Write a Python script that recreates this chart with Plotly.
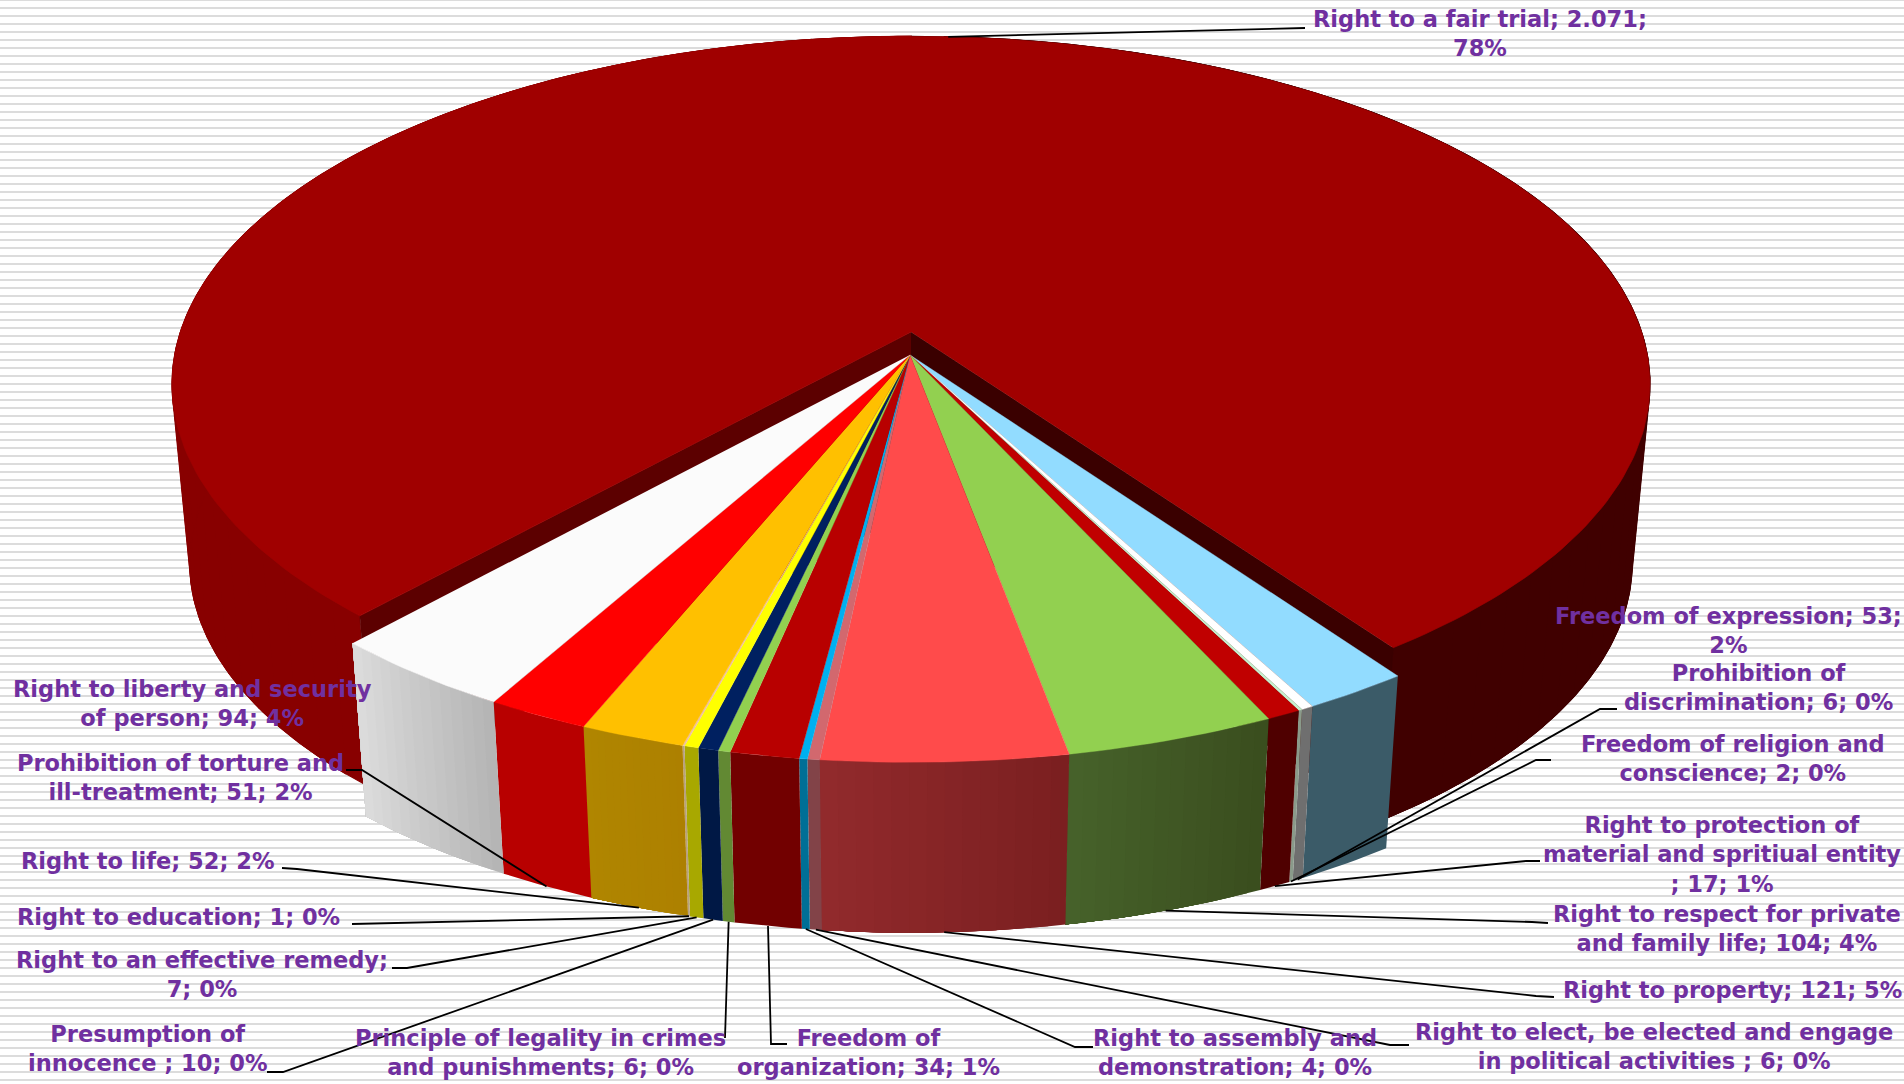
import numpy as np
import plotly.graph_objects as go

# ---------- data (clockwise from the exploded slice) ----------
names = ["Right to a fair trial", "Freedom of expression", "Prohibition of discrimination",
         "Freedom of religion and conscience", "Right to protection of material and spritiual entity ",
         "Right to respect for private and family life", "Right to property",
         "Right to elect, be elected and engage in political activities ",
         "Right to assembly and demonstration", "Freedom of organization",
         "Principle of legality in crimes and punishments", "Presumption of innocence ",
         "Right to an effective remedy", "Right to education", "Right to life",
         "Prohibition of torture and ill-treatment", "Right to liberty and security of person"]
values = [2071, 53, 6, 2, 17, 104, 121, 6, 4, 34, 6, 10, 7, 1, 52, 51, 94]
labels = ["Right to a fair trial; 2.071;<br>78%",
          "Freedom of expression; 53;<br>2%",
          "Prohibition of<br>discrimination; 6; 0%",
          "Freedom of religion and<br>conscience; 2; 0%",
          "Right to protection of<br>material and spritiual entity<br>; 17; 1%",
          "Right to respect for private<br>and family life; 104; 4%",
          "Right to property; 121; 5%",
          "Right to elect, be elected and engage<br>in political activities ; 6; 0%",
          "Right to assembly and<br>demonstration; 4; 0%",
          "Freedom of<br>organization; 34; 1%",
          "Principle of legality in crimes<br>and punishments; 6; 0%",
          "Presumption of<br>innocence ; 10; 0%",
          "Right to an effective remedy;<br>7; 0%",
          "Right to education; 1; 0%",
          "Right to life; 52; 2%",
          "Prohibition of torture and<br>ill-treatment; 51; 2%",
          "Right to liberty and security<br>of person; 94; 4%"]

# ---------- styles ----------
top_colors = ["#a00000", "#92dcff", "#ffffff", "#c6efce", "#c00000", "#92d050", "#ff4b4b", "#d2686e",
              "#00b0f0", "#b80000", "#92d050", "#002060", "#ffff00", "#f0c0a0", "#ffc000", "#ff0000", "#fbfbfb"]
side_left = ["#880000", "#3b5b68", "#6f6f6f", "#8a9a8a", "#4f0000", "#46622a", "#922a2c", "#824348",
             "#006f96", "#720000", "#628933", "#001845", "#a8a800", "#b8a080", "#b08600", "#b80000", "#dcdcdc"]
side_right = ["#400000", "#3b5b68", "#6f6f6f", "#8a9a8a", "#4f0000", "#3a4d1e", "#7a1f20", "#824348",
              "#006f96", "#720000", "#628933", "#001845", "#a8a800", "#b8a080", "#ad8000", "#b80000", "#b4b4b4"]
cut_left, cut_right = "#5c0000", "#3a0000"
text_color = "#7030a0"

W, H = 1904, 1084
START = 222.1           # angle of first slice, clockwise from the back of the pie
A_S, B_S, P_S = 734.0, 343.0, 0.158
A_B, B_B, P_B = 730.6, 340.0, 0.150
CS = (910.0, 355.0)     # centre of the resting slices
CB = (911.0, 332.0)     # centre of the pulled-out slice
BOT_SCALE, DEPTH = 0.976, 180.0

label_pos = [(1480, 33), (1728, 630), (1758, 687), (1733, 758), (1722, 854), (1727, 928), (1732, 990),
             (1654, 1046), (1235, 1052), (868, 1052), (540, 1052), (147, 1048), (202, 974), (178, 917),
             (147, 861), (180, 777), (192, 703)]
leader_out = [[(1305, 28)], None, [(1617, 709), (1600, 709)], [(1551, 760), (1536, 760)],
              [(1540, 861), (1526, 861)], [(1548, 923), (1532, 922)], [(1554, 997), (1536, 996)],
              [(1409, 1045), (1390, 1045)], [(1093, 1047), (1075, 1047)], [(787, 1044), (771, 1044)],
              [(725, 1038)], [(267, 1072), (283, 1072)], [(392, 968), (407, 968)], [(352, 924)],
              [(282, 868), (297, 869)], [(346, 770), (362, 770)], None]


def project(alpha, c, a, b, p, bottom=False):
    t = np.radians(alpha)
    X, Y = np.sin(t), -np.cos(t)
    w = 1 - p * Y
    dx, dy = a * X / w, b * Y / w
    if bottom:
        return c[0] + dx * BOT_SCALE, c[1] + dy * BOT_SCALE + DEPTH
    return c[0] + dx, c[1] + dy


def mix(c1, c2, f):
    a = [int(c1[i:i + 2], 16) for i in (1, 3, 5)]
    b = [int(c2[i:i + 2], 16) for i in (1, 3, 5)]
    return "rgb(%d,%d,%d)" % tuple(round(u + (v - u) * f) for u, v in zip(a, b))


fig = go.Figure()


def poly(xs, ys, color, lw=0.7):
    fig.add_trace(go.Scatter(x=list(xs), y=list(ys), mode="lines", fill="toself", fillcolor=color,
                             line=dict(color=color, width=lw), hoverinfo="skip", showlegend=False))


# striped background
bx, by = [], []
for yy in range(0, H + 8, 8):
    bx += [0, W, None]
    by += [yy, yy, None]
fig.add_trace(go.Scatter(x=bx, y=by, mode="lines", line=dict(color="#dcdcdc", width=2),
                         hoverinfo="skip", showlegend=False))

total = sum(values)
sweeps = [v / total * 360 for v in values]
starts = [START + s for s in np.concatenate([[0], np.cumsum(sweeps)[:-1]])]


def ring(a0, a1, c, a, b, p, bottom, n=None):
    n = n or max(2, int(abs(a1 - a0) / 1.0) + 2)
    ang = np.linspace(a0, a1, n)
    return project(ang, c, a, b, p, bottom)


# pulled-out slice: outer wall, drawn as overlapping strips on the left and right
a0, a1 = starts[0], starts[0] + sweeps[0]
for lo, hi, col in [(a0, 360, side_left[0]), (360, a1, side_right[0])]:
    steps = np.linspace(lo, hi, int((hi - lo) / 3) + 2)
    for k in range(len(steps) - 1):
        s0, s1 = steps[k], steps[min(k + 3, len(steps) - 1)]
        tx, ty = ring(s0, s1, CB, A_B, B_B, P_B, False, 6)
        ux, uy = ring(s1, s0, CB, A_B, B_B, P_B, True, 6)
        poly(np.r_[tx, ux], np.r_[ty, uy], col, 1.2)

# cut faces of the pulled-out slice
for ang, col in [(a0, cut_left), (a1, cut_right)]:
    ox, oy = project(ang, CB, A_B, B_B, P_B)
    bx2, by2 = project(ang, CB, A_B, B_B, P_B, True)
    poly([CB[0], ox, bx2, CB[0]], [CB[1], oy, by2, CB[1] + DEPTH], col)

# pulled-out slice: top
tx, ty = ring(a0, a1, CB, A_B, B_B, P_B, False)
poly(np.r_[CB[0], tx], np.r_[CB[1], ty], top_colors[0])

# resting slices: outer walls (each band runs on to the slice's end, so no seams show)
for i in range(1, len(values)):
    s, e = starts[i], starts[i] + sweeps[i]
    n = 14 if side_left[i] != side_right[i] else 1
    edges = np.linspace(s, e, n + 1)
    for k in range(n):
        col = mix(side_right[i], side_left[i], (k + 0.5) / n)
        tx, ty = ring(edges[k], e, CS, A_S, B_S, P_S, False)
        ux, uy = ring(e, edges[k], CS, A_S, B_S, P_S, True)
        poly(np.r_[tx, ux], np.r_[ty, uy], col, 0)

# resting slices: tops
for i in range(1, len(values)):
    tx, ty = ring(starts[i], starts[i] + sweeps[i], CS, A_S, B_S, P_S, False)
    poly(np.r_[CS[0], tx], np.r_[CS[1], ty], top_colors[i], 0.4)

# leader lines, ending at the middle of each slice's rim
lx, ly = [], []
for i, pts in enumerate(leader_out):
    if pts is None:
        continue
    mid = starts[i] + sweeps[i] / 2
    if i == 0:
        ex, ey = project(mid, CB, A_B, B_B, P_B)
    else:
        ex, ey = project(mid, CS, A_S, B_S, P_S, True)
    for px, py in pts:
        lx.append(px)
        ly.append(py)
    lx += [float(ex), None]
    ly += [float(ey), None]
fig.add_trace(go.Scatter(x=lx, y=ly, mode="lines", line=dict(color="#000000", width=1.8),
                         hoverinfo="skip", showlegend=False))

for txt, (x, y) in zip(labels, label_pos):
    fig.add_annotation(x=x, y=y, xref="x", yref="y", text=txt, showarrow=False, align="center",
                       xanchor="center", yanchor="middle",
                       font=dict(family="DejaVu Sans", size=22.5, color=text_color, weight="bold"))

fig.update_layout(width=W, height=H, margin=dict(l=0, r=0, t=0, b=0), autosize=False,
                  plot_bgcolor="#ffffff", paper_bgcolor="#ffffff", showlegend=False,
                  xaxis=dict(range=[0, W], visible=False, fixedrange=True),
                  yaxis=dict(range=[H, 0], visible=False, fixedrange=True))
fig.write_html("out.html", config={"displayModeBar": False},
               post_script="document.body.style.margin='0';document.body.style.overflow='hidden';")
